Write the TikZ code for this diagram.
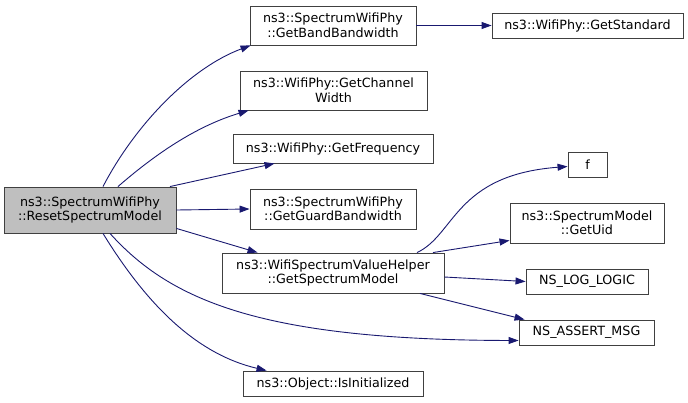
\documentclass[tikz,border=0pt]{standalone}
\usepackage{fontspec}
\setmainfont{DejaVu Sans}
\usetikzlibrary{arrows.meta}
\definecolor{edgec}{HTML}{191970}
\definecolor{boxc}{HTML}{404040}
\tikzset{
  fn/.style={draw=boxc, line width=0.9pt, fill=white, inner sep=0pt, align=center,
    font=\fontsize{12.7}{14.5}\selectfont},
  call/.style={draw=edgec, line width=0.9pt, -{Triangle[length=10pt,width=7pt]}},
}
\begin{document}
\begin{tikzpicture}[x=1pt,y=-1pt]
\useasboundingbox (0,0) rectangle (688,402);
\node[fn, fill={rgb,255:red,191;green,191;blue,191}, minimum width=172pt, minimum height=46pt] (root) at (90,210) {ns3::SpectrumWifiPhy\\::ResetSpectrumModel};
\node[fn, minimum width=166pt, minimum height=39pt] (gbb) at (333,25.5) {ns3::SpectrumWifiPhy\\::GetBandBandwidth};
\node[fn, minimum width=191pt, minimum height=25pt] (gstd) at (587.5,25.5) {ns3::WifiPhy::GetStandard};
\node[fn, minimum width=187pt, minimum height=39pt] (gcw) at (333.5,90.5) {ns3::WifiPhy::GetChannel\\Width};
\node[fn, minimum width=200pt, minimum height=29pt] (gfreq) at (333,148.5) {ns3::WifiPhy::GetFrequency};
\node[fn, minimum width=166pt, minimum height=40pt] (ggb) at (333,209) {ns3::SpectrumWifiPhy\\::GetGuardBandwidth};
\node[fn, minimum width=222pt, minimum height=40pt] (wsvh) at (333,273) {ns3::WifiSpectrumValueHelper\\::GetSpectrumModel};
\node[fn, minimum width=180pt, minimum height=25pt] (isinit) at (333,383.5) {ns3::Object::IsInitialized};
\node[fn, minimum width=39pt, minimum height=25pt] (f) at (587.5,164.5) {f};
\node[fn, minimum width=154pt, minimum height=40pt] (uid) at (587,223) {ns3::SpectrumModel\\::GetUid};
\node[fn, minimum width=122pt, minimum height=25pt] (log) at (587,281.5) {NS\_LOG\_LOGIC};
\node[fn, minimum width=135pt, minimum height=25pt] (assert) at (586.5,332.5) {NS\_ASSERT\_MSG};

\draw[call] ([xshift=13pt]root.north) .. controls (135,125) and (190,68) .. ([xshift=1pt]gbb.south west);
\draw[call] ([xshift=28pt]root.north) .. controls (160,150) and (200,125) .. ([xshift=9pt]gcw.south west);
\draw[call] ([xshift=80pt]root.north) -- ([xshift=42pt]gfreq.south west);
\draw[call] (root.east) -- (ggb.west);
\draw[call] ([yshift=5pt]root.south east) -- ([xshift=36pt]wsvh.north west);
\draw[call] ([xshift=20pt]root.south) .. controls (170,300) and (260,340) .. ([yshift=-8pt]assert.west);
\draw[call] ([xshift=13pt]root.south) .. controls (150,310) and (200,355) .. ([xshift=24pt]isinit.north west);
\draw[call] (gbb.east) -- (gstd.west);
\draw[call] ([xshift=84pt]wsvh.north) .. controls (455,235) and (455,175) .. ([yshift=-2pt]f.west);
\draw[call] ([xshift=100pt]wsvh.north) -- ([yshift=3pt]uid.south west);
\draw[call] ([yshift=-4pt]wsvh.east) -- (log.west);
\draw[call] ([xshift=87pt]wsvh.south) -- ([xshift=6pt]assert.north west);
\end{tikzpicture}
\end{document}
